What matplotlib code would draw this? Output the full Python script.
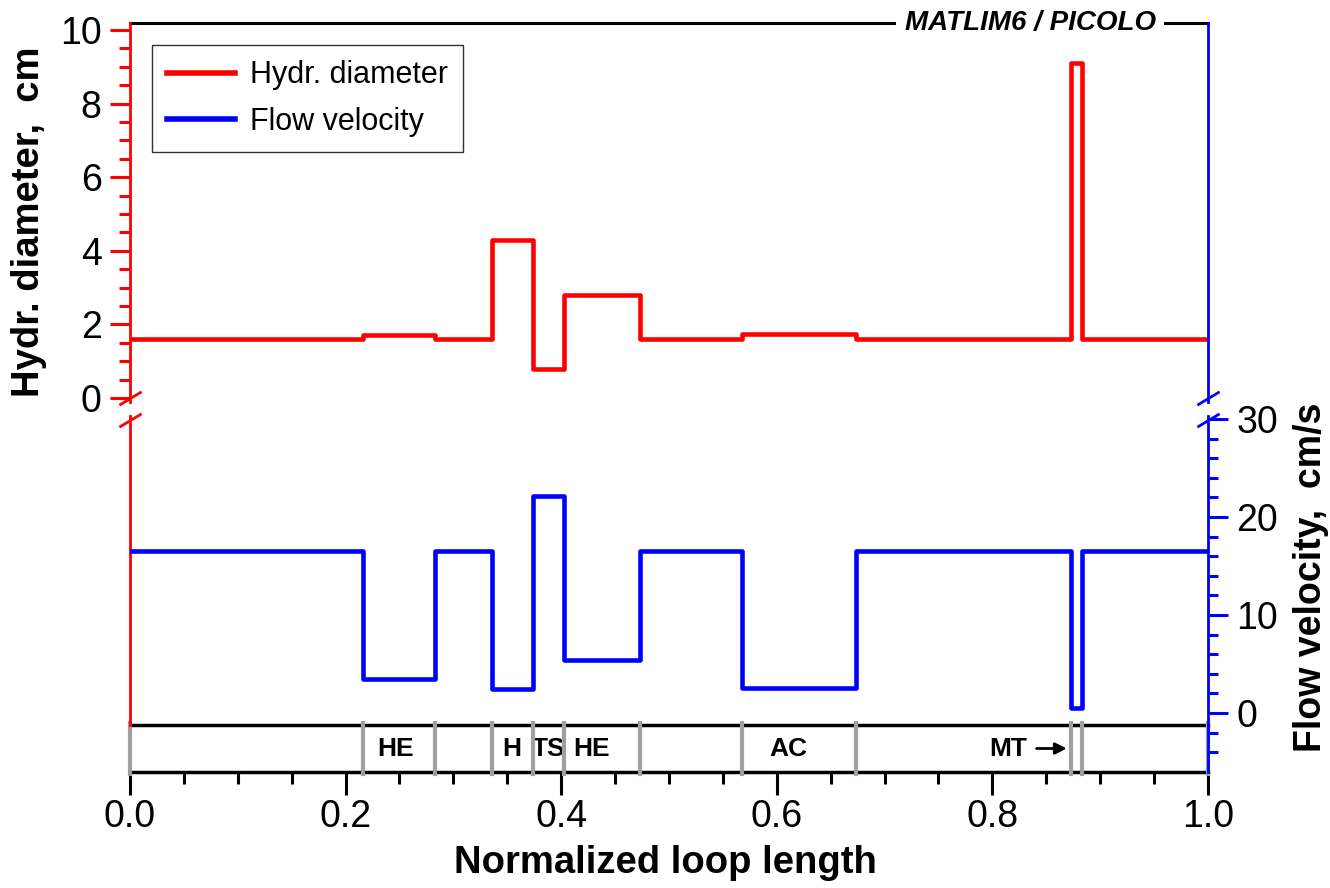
import numpy as np
import matplotlib
matplotlib.use("Agg")
from matplotlib import pyplot as plt
from matplotlib import transforms

plt.rcParams['font.family'] = ['Liberation Sans', 'DejaVu Sans']

# section boundaries along the loop (normalized length)
bounds = [0.0, 0.2165, 0.2826, 0.3362, 0.3735, 0.4026, 0.4729, 0.5675, 0.6736, 0.8725, 0.8828, 1.0]
# values per section
hydr_diam = [1.6, 1.7, 1.6, 4.3, 0.8, 2.8, 1.6, 1.73, 1.6, 9.1, 1.6]
velocity = [16.5, 3.5, 16.5, 2.4, 22.1, 5.4, 16.5, 2.6, 16.5, 0.5, 16.5]

# component names in the bottom strip
comp_names = ["HE", "H", "TS", "HE", "AC", "MT"]
comp_pos = [0.2463, 0.354, 0.388, 0.4286, 0.6104, 0.8146]

RED = '#ff0000'
BLUE = '#0000ff'
GRAY = '#a0a0a0'

fig = plt.figure(figsize=(13.3, 8.88), dpi=100)
L, R, T, B = 130, 1208, 23, 772
ax = fig.add_axes([L / 1330, 1 - B / 888, (R - L) / 1330, (B - T) / 888])
ax2 = ax.twinx()

# y limits chosen so that the two scales sit in upper / lower part
ax.set_xlim(0, 1)
ax.set_ylim(-(B - 398) / 36.8, 10 + (30 - T) / 36.8)
ax2.set_ylim(-(B - 713) / 9.8, 30 + (419 - T) / 9.8)

x = bounds
hd = hydr_diam + [hydr_diam[-1]]
vel = velocity + [velocity[-1]]
l1, = ax.plot(x, hd, drawstyle='steps-post', color=RED, lw=3.3, label='Hydr. diameter', zorder=4)
l2, = ax2.plot(x, vel, drawstyle='steps-post', color=BLUE, lw=3.3, label='Flow velocity', zorder=4)

# spines
for a in (ax, ax2):
    for s in a.spines.values():
        s.set_visible(False)
ax.spines['top'].set_visible(True)
ax.spines['top'].set_linewidth(2.2)
ax.spines['bottom'].set_visible(True)
ax.spines['bottom'].set_linewidth(2.5)

strip_top = (B - 725) / (B - T)
y_up = (B - 402) / (B - T)
y_lo = (B - 416) / (B - T)
ax.plot([0, 0], [y_up, 1], transform=ax.transAxes, color=RED, lw=2, clip_on=False, zorder=5)
ax.plot([0, 0], [strip_top, y_lo], transform=ax.transAxes, color=RED, lw=2, clip_on=False, zorder=5)
ax.plot([1, 1], [y_up, 1], transform=ax.transAxes, color=BLUE, lw=2, clip_on=False, zorder=5)
ax.plot([1, 1], [0, y_lo], transform=ax.transAxes, color=BLUE, lw=2, clip_on=False, zorder=5)

# break marks
d = 0.6
brk = dict(marker=[(-1, -d), (1, d)], markersize=16, linestyle='none', mew=2, clip_on=False, zorder=6)
yb = [(B - 398) / (B - T), (B - 420) / (B - T)]
ax.plot([0, 0], yb, transform=ax.transAxes, color=RED, mec=RED, **brk)
ax.plot([1, 1], yb, transform=ax.transAxes, color=BLUE, mec=BLUE, **brk)

# bottom strip with components
ax.plot([0, 1], [strip_top, strip_top], transform=ax.transAxes, color='black', lw=2.5, clip_on=False, zorder=3)
trans = transforms.blended_transform_factory(ax.transData, ax.transAxes)
for b in bounds:
    ax.plot([b, b], [-0.003, strip_top + 0.003], transform=trans, color=GRAY, lw=3, clip_on=False, zorder=3.5)
ymid = strip_top / 2
for name, p in zip(comp_names, comp_pos):
    ax.text(p, ymid, name, transform=trans, ha='center', va='center', fontsize=19, fontweight='bold')
ax.annotate('', xy=(0.869, ymid), xytext=(0.841, ymid), xycoords=trans, textcoords=trans,
            arrowprops=dict(arrowstyle='-|>', color='black', lw=2, mutation_scale=17, shrinkA=0, shrinkB=0))

# ticks
ax.set_xticks(np.arange(0, 1.01, 0.2))
ax.set_xticks(np.arange(0, 1.01, 0.05), minor=True)
ax.set_xticklabels([f'{v:.1f}' for v in np.arange(0, 1.01, 0.2)])
ax.tick_params(axis='x', which='major', length=16.5, width=2.2, labelsize=27, pad=3, direction='out')
ax.tick_params(axis='x', which='minor', length=8.5, width=2.2, direction='out')

ax.set_yticks([0, 2, 4, 6, 8, 10])
ax.set_yticks(np.arange(0, 10.01, 0.5), minor=True)
ax.tick_params(axis='y', which='both', colors=RED, labelcolor='black', width=2.2, direction='out',
               left=True, right=False)
ax.tick_params(axis='y', which='major', length=14.4, labelsize=27, pad=6)
ax.tick_params(axis='y', which='minor', length=7.9)

ax2.set_yticks([0, 10, 20, 30])
ax2.set_yticks(np.arange(-4, 30.01, 2), minor=True)
ax2.tick_params(axis='y', which='both', colors=BLUE, labelcolor='black', width=2.2, direction='out',
                left=False, right=True)
ax2.tick_params(axis='y', which='major', length=14.4, labelsize=27, pad=6)
ax2.tick_params(axis='y', which='minor', length=7.2)

# labels
ax.text(-0.0935, (B - 222) / (B - T), 'Hydr. diameter,  cm', transform=ax.transAxes, rotation=90,
        ha='center', va='center', fontsize=27.5, fontweight='bold')
ax.text(1.0955, (B - 577) / (B - T), 'Flow velocity,  cm/s', transform=ax.transAxes, rotation=90,
        ha='center', va='center', fontsize=27, fontweight='bold')
ax.text(0.497, -0.122, 'Normalized loop length', transform=ax.transAxes,
        ha='center', va='center', fontsize=27.5, fontweight='bold')

ax.text(0.835, 1.0, 'MATLIM6 / PICOLO', transform=ax.transAxes, ha='center', va='center',
        fontsize=20, fontweight='bold', fontstyle='italic', zorder=7,
        bbox=dict(boxstyle='square,pad=0.3', fc='white', ec='none'))

leg = ax2.legend(handles=[l1, l2], loc='upper left', bbox_to_anchor=((152 - L) / (R - L), (B - 45) / (B - T)),
                 borderaxespad=0, fontsize=22, frameon=True, fancybox=False, edgecolor='black',
                 handlelength=2.2, handletextpad=0.5, labelspacing=0.55, borderpad=0.5)
leg.get_frame().set_linewidth(1.0)
for h in leg.get_lines():
    h.set_linewidth(4)

fig.savefig('out.png', dpi=100)
